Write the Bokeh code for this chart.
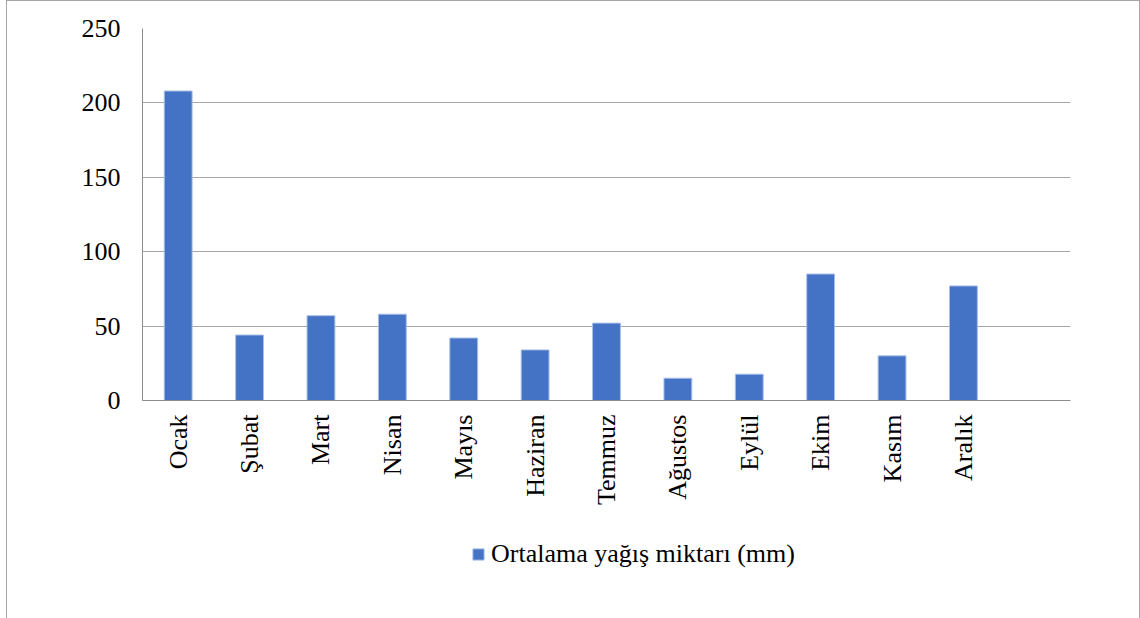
import math
from bokeh.plotting import figure
from bokeh.layouts import column
from bokeh.models import Range1d, FixedTicker, Legend, LegendItem, ColumnDataSource
from bokeh.embed import file_html
from bokeh.resources import INLINE

months = ["Ocak", "Şubat", "Mart", "Nisan", "Mayıs", "Haziran", "Temmuz",
          "Ağustos", "Eylül", "Ekim", "Kasım", "Aralık"]
rain = [208, 44, 57, 58, 42, 34, 52, 15, 17.7, 85, 30, 77]
series_name = "Ortalama yağış miktarı (mm)"
y_ticks = [0, 50, 100, 150, 200, 250]

positions = list(range(1, len(months) + 1))
src = ColumnDataSource(dict(x=positions, top=rain, month=months))

FONT = "Liberation Serif"
BAR = "#4472C4"
BAR_EDGE = "#a9bfe8"

p = figure(width=1132, height=520, output_backend="svg", toolbar_location=None,
           x_range=Range1d(0.5, 13.5), y_range=Range1d(0, 250),
           min_border_left=135, min_border_right=69, min_border_top=27,
           min_border_bottom=121)
p.outline_line_color = None

r = p.vbar(x="x", top="top", width=0.39, source=src, fill_color=BAR,
           line_color=BAR_EDGE, line_width=1)

p.yaxis.ticker = FixedTicker(ticks=y_ticks)
p.yaxis.axis_line_color = "#8c8c8c"
p.yaxis.major_tick_line_color = None
p.yaxis.major_tick_out = 0
p.yaxis.minor_tick_line_color = None
p.yaxis.major_label_standoff = 22
p.yaxis.major_label_text_font = FONT
p.yaxis.major_label_text_font_size = "26px"
p.yaxis.major_label_text_color = "black"

p.xaxis.ticker = FixedTicker(ticks=positions)
p.xaxis.major_label_overrides = {i: m for i, m in zip(positions, months)}
p.xaxis.major_label_orientation = math.pi / 2
p.xaxis.axis_line_color = "#8c8c8c"
p.xaxis.major_tick_line_color = None
p.xaxis.major_tick_out = 0
p.xaxis.minor_tick_line_color = None
p.xaxis.major_label_standoff = 14
p.xaxis.major_label_text_font = FONT
p.xaxis.major_label_text_font_size = "26px"
p.xaxis.major_label_text_color = "black"

p.xgrid.grid_line_color = None
p.ygrid.grid_line_color = "#a6a6a6"

# legend strip below the chart (frame aligned with the chart's frame);
# its y range lies above every value, so the series renderer there only
# supplies the legend swatch.
p2 = figure(width=1132, height=97, output_backend="svg", toolbar_location=None,
            x_range=Range1d(0.5, 13.5), y_range=Range1d(250, 500),
            x_axis_type=None, y_axis_type=None,
            min_border_left=135, min_border_right=69, min_border_top=0,
            min_border_bottom=0)
p2.outline_line_color = None
p2.grid.grid_line_color = None
ghost = p2.vbar(x="x", top="top", width=0.39, source=src, fill_color=BAR,
                line_color=BAR_EDGE, line_width=1)
legend = Legend(items=[LegendItem(label=series_name, renderers=[ghost])],
                location=(329, 49), orientation="horizontal",
                padding=0, margin=0, spacing=0,
                glyph_width=14, glyph_height=14, label_standoff=6,
                label_text_font=FONT, label_text_font_size="26px",
                label_text_color="black",
                border_line_color=None, background_fill_alpha=0)
p2.add_layout(legend, "center")

layout = column(p, p2, spacing=0)
layout.styles = {"margin-left": "6px",
                 "border-left": "1px solid #a6a6a6",
                 "border-top": "1px solid #a6a6a6",
                 "border-right": "1px solid #a6a6a6"}

open("out.html", "w").write(file_html(layout, INLINE))
